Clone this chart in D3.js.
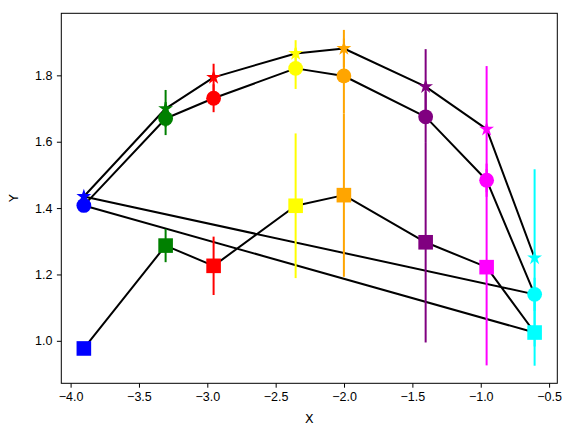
<!DOCTYPE html>
<html>
<head>
<meta charset="utf-8">
<script src="https://cdn.jsdelivr.net/npm/d3@7"></script>
<style>
  html, body { margin: 0; padding: 0; background: #fff; }
  svg { display: block; font-family: "DejaVu Sans", sans-serif; }
  .tick text { font-size: 12.5px; fill: #000; }
  .axis-label { font-size: 12.5px; fill: #000; }
</style>
</head>
<body>
<div id="chart"></div>
<script>
// x positions shared by all three series, one colour per x
const xs = [-3.903, -3.305, -2.954, -2.354, -2.001, -1.403, -0.957, -0.606];
const colors = ['#0000ff', '#008000', '#ff0000', '#ffff00', '#ffa500', '#800080', '#ff00ff', '#00ffff'];

const starY    = [1.435, 1.700, 1.794, 1.866, 1.881, 1.766, 1.638, 1.250];
const circleY  = [1.408, 1.670, 1.731, 1.821, 1.798, 1.675, 1.484, 1.140];
const squareY  = [0.977, 1.287, 1.226, 1.407, 1.439, 1.297, 1.222, 1.025];

const starErr   = [0.01, 0.056, 0.041, 0.040, 0.056, 0.113, 0.190, 0.267];
const circleErr = [0.01, 0.050, 0.042, 0.062, 0.113, 0.076, 0.050, 0.050];
const squareErr = [0.01, 0.050, 0.088, 0.218, 0.246, 0.302, 0.296, 0.100];

const xTicks = [-4.0, -3.5, -3.0, -2.5, -2.0, -1.5, -1.0, -0.5];
const yTicks = [1.0, 1.2, 1.4, 1.6, 1.8];

const W = 575, H = 436;
const M = { top: 13.3, right: 17.7, bottom: 52.7, left: 61.3 };
const innerW = W - M.left - M.right, innerH = H - M.top - M.bottom;

const svg = d3.select('#chart').append('svg').attr('width', W).attr('height', H);
const g = svg.append('g').attr('transform', `translate(${M.left},${M.top})`);

const x = d3.scaleLinear().domain([-4.068, -0.440]).range([0, innerW]);
const y = d3.scaleLinear().domain([0.872, 1.987]).range([innerH, 0]);

const minus = d => d3.format('.1f')(d).replace('-', '\u2212');

const xAxis = g.append('g').attr('transform', `translate(0,${innerH})`)
  .call(d3.axisBottom(x).tickValues(xTicks).tickFormat(minus).tickSize(4.4).tickPadding(4.4));
const yAxis = g.append('g')
  .call(d3.axisLeft(y).tickValues(yTicks).tickFormat(d3.format('.1f')).tickSize(4.4).tickPadding(4.4));
[xAxis, yAxis].forEach(a => {
  a.select('.domain').remove();
  a.selectAll('.tick line').attr('stroke', '#000').attr('stroke-width', 1);
});

g.append('text').attr('class', 'axis-label')
  .attr('x', innerW / 2).attr('y', innerH + 40).attr('text-anchor', 'middle').text('X');
g.append('text').attr('class', 'axis-label')
  .attr('transform', `translate(${-43},${innerH / 2}) rotate(-90)`)
  .attr('text-anchor', 'middle').text('Y');

// one black polyline: squares, then circles, then stars
const seq = [];
[squareY, circleY, starY].forEach(arr => arr.forEach((v, i) => seq.push([xs[i], v])));
g.append('path')
  .attr('d', d3.line().x(d => x(d[0])).y(d => y(d[1]))(seq))
  .attr('fill', 'none').attr('stroke', '#000').attr('stroke-width', 2)
  .attr('stroke-linejoin', 'round');

const starPath = (R) => {
  const r = R * 0.381966, pts = [];
  for (let k = 0; k < 10; k++) {
    const a = -Math.PI / 2 + k * Math.PI / 5;
    const rr = k % 2 ? r : R;
    pts.push([rr * Math.cos(a), rr * Math.sin(a)]);
  }
  return 'M' + pts.map(p => p.join(',')).join('L') + 'Z';
};

const series = [
  { ys: starY, errs: starErr, shape: 'star' },
  { ys: circleY, errs: circleErr, shape: 'circle' },
  { ys: squareY, errs: squareErr, shape: 'square' },
];

series.forEach(s => {
  const eg = g.append('g');
  eg.selectAll('line').data(xs).join('line')
    .attr('x1', d => x(d)).attr('x2', d => x(d))
    .attr('y1', (d, i) => y(s.ys[i] - s.errs[i]))
    .attr('y2', (d, i) => y(s.ys[i] + s.errs[i]))
    .attr('stroke', (d, i) => colors[i]).attr('stroke-width', 2);
});

series.forEach(s => {
  const mg = g.append('g');
  const sel = mg.selectAll('.m').data(xs).join(s.shape === 'circle' ? 'circle' : s.shape === 'square' ? 'rect' : 'path')
    .attr('fill', (d, i) => colors[i]);
  if (s.shape === 'circle') {
    sel.attr('cx', d => x(d)).attr('cy', (d, i) => y(s.ys[i])).attr('r', 7.4);
  } else if (s.shape === 'square') {
    sel.attr('x', d => x(d) - 7.3).attr('y', (d, i) => y(s.ys[i]) - 7.3)
      .attr('width', 14.6).attr('height', 14.6);
  } else {
    sel.attr('d', starPath(7.8))
      .attr('transform', (d, i) => `translate(${x(d)},${y(s.ys[i])})`);
  }
});

// axes frame on top
g.append('rect').attr('width', innerW).attr('height', innerH)
  .attr('fill', 'none').attr('stroke', '#000').attr('stroke-width', 1);
</script>
</body>
</html>
